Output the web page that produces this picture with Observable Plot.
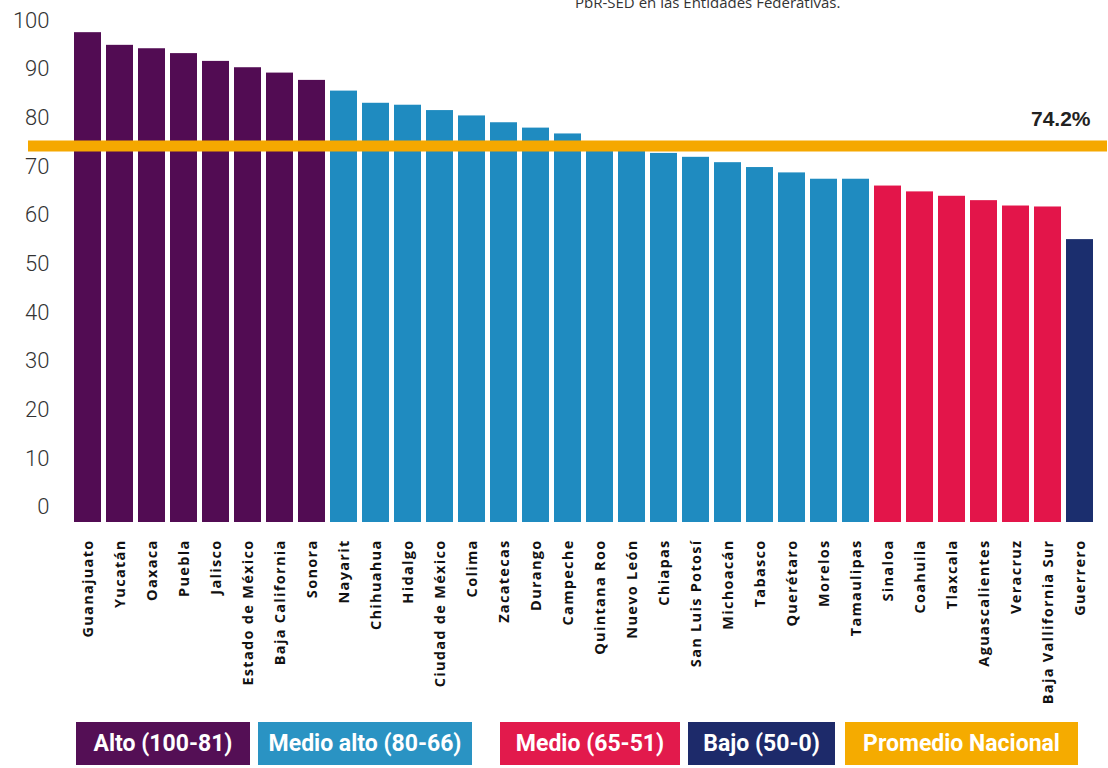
<!DOCTYPE html>
<html>
<head>
<meta charset="utf-8">
<script src="https://cdn.jsdelivr.net/npm/d3@7"></script>
<script src="https://cdn.jsdelivr.net/npm/@observablehq/plot@0.6"></script>
<style>
  html, body { margin: 0; padding: 0; background: #ffffff; overflow: hidden; }
  #wrap { position: relative; width: 1108px; height: 768px; }
  #title { position: absolute; left: 575px; top: -8px; font: 15px "Open Sans", sans-serif; color: #333; white-space: nowrap; }
  #chart { position: absolute; left: 0; top: 0; }
  .lg { position: absolute; top: 722px; height: 43px; display: flex; align-items: center; justify-content: center;
        color: #fff; font-family: "Liberation Sans Narrow", "Roboto", sans-serif; font-weight: 700; font-size: 23px; }
  svg [aria-label="x-axis tick label"] text { letter-spacing: 1.3px; }
</style>
</head>
<body>
<div id="wrap">
  <div id="title">PbR-SED en las Entidades Federativas.</div>
  <div id="chart"></div>
  <div id="legend"></div>
</div>
<script>
const states = ["Guanajuato","Yucatán","Oaxaca","Puebla","Jalisco","Estado de México","Baja California","Sonora",
  "Nayarit","Chihuahua","Hidalgo","Ciudad de México","Colima","Zacatecas","Durango","Campeche","Quintana Roo",
  "Nuevo León","Chiapas","San Luis Potosí","Michoacán","Tabasco","Querétaro","Morelos","Tamaulipas",
  "Sinaloa","Coahuila","Tlaxcala","Aguascalientes","Veracruz","Baja Vallifornia Sur","Guerrero"];
const values = [97.5,94.9,94.2,93.2,91.6,90.3,89.2,87.7,
  85.5,83.0,82.6,81.5,80.4,79.0,77.9,76.7,75.0,
  74.4,72.7,71.9,70.8,69.8,68.7,67.4,67.4,
  66.0,64.8,63.9,63.0,61.9,61.7,55.0];
const groups = ["Alto","Alto","Alto","Alto","Alto","Alto","Alto","Alto",
  "Medio alto","Medio alto","Medio alto","Medio alto","Medio alto","Medio alto","Medio alto","Medio alto","Medio alto",
  "Medio alto","Medio alto","Medio alto","Medio alto","Medio alto","Medio alto","Medio alto","Medio alto",
  "Medio","Medio","Medio","Medio","Medio","Medio","Bajo"];
const groupNames = ["Alto","Medio alto","Medio","Bajo"];
const groupColors = ["#520c53","#1f8bc0","#e3154a","#1b2e6e"];
const average = 74.2;
const averageLabel = "74.2%";
const averageColor = "#f5a800";
const yTicks = [0,10,20,30,40,50,60,70,80,90,100];
const baseline = -3.1;
const legendItems = [
  {label: "Alto (100-81)", color: "#540f55"},
  {label: "Medio alto (80-66)", color: "#2a93c3"},
  {label: "Medio (65-51)", color: "#e21a4c"},
  {label: "Bajo (50-0)", color: "#1d2a6a"},
  {label: "Promedio Nacional", color: "#f5ab00"}
];
const legendPos = [[76,174],[258,214],[500,180],[688,147],[845,233]];

const data = states.map((s, i) => ({state: s, value: values[i], group: groups[i]}));

const chart = Plot.plot({
  width: 1108,
  height: 712,
  marginTop: 20,
  marginBottom: 190,
  marginLeft: 59,
  marginRight: 1,
  style: {background: "transparent", overflow: "visible"},
  x: {domain: states, padding: 0.16, label: null},
  y: {domain: [baseline, 100], label: null},
  color: {domain: groupNames, range: groupColors},
  marks: [
    Plot.rectY(data, {x: "state", y1: baseline, y2: "value", fill: "group"}),
    Plot.ruleY([average], {stroke: averageColor, strokeWidth: 11, insetLeft: -31}),
    Plot.text([averageLabel], {frameAnchor: "right", y: () => average, dx: -17, dy: -27,
      fontSize: 21, fontWeight: "bold", fill: "#222", fontFamily: "Liberation Sans, Arial, sans-serif"}),
    Plot.axisY({ticks: yTicks, tickSize: 0, tickPadding: 10, fontSize: 22, fill: "#333",
      fontFamily: "Roboto", fontWeight: 300}),
    Plot.axisX({tickSize: 0, tickPadding: 17, tickRotate: -90, fontSize: 14.5, fontWeight: "bold",
      fontFamily: "Open Sans", fill: "#111", textAnchor: "end"})
  ]
});
document.getElementById("chart").appendChild(chart);

const legend = document.getElementById("legend");
legendItems.forEach((d, i) => {
  const el = document.createElement("div");
  el.className = "lg";
  el.style.left = legendPos[i][0] + "px";
  el.style.width = legendPos[i][1] + "px";
  el.style.background = d.color;
  el.textContent = d.label;
  legend.appendChild(el);
});
</script>
</body>
</html>
